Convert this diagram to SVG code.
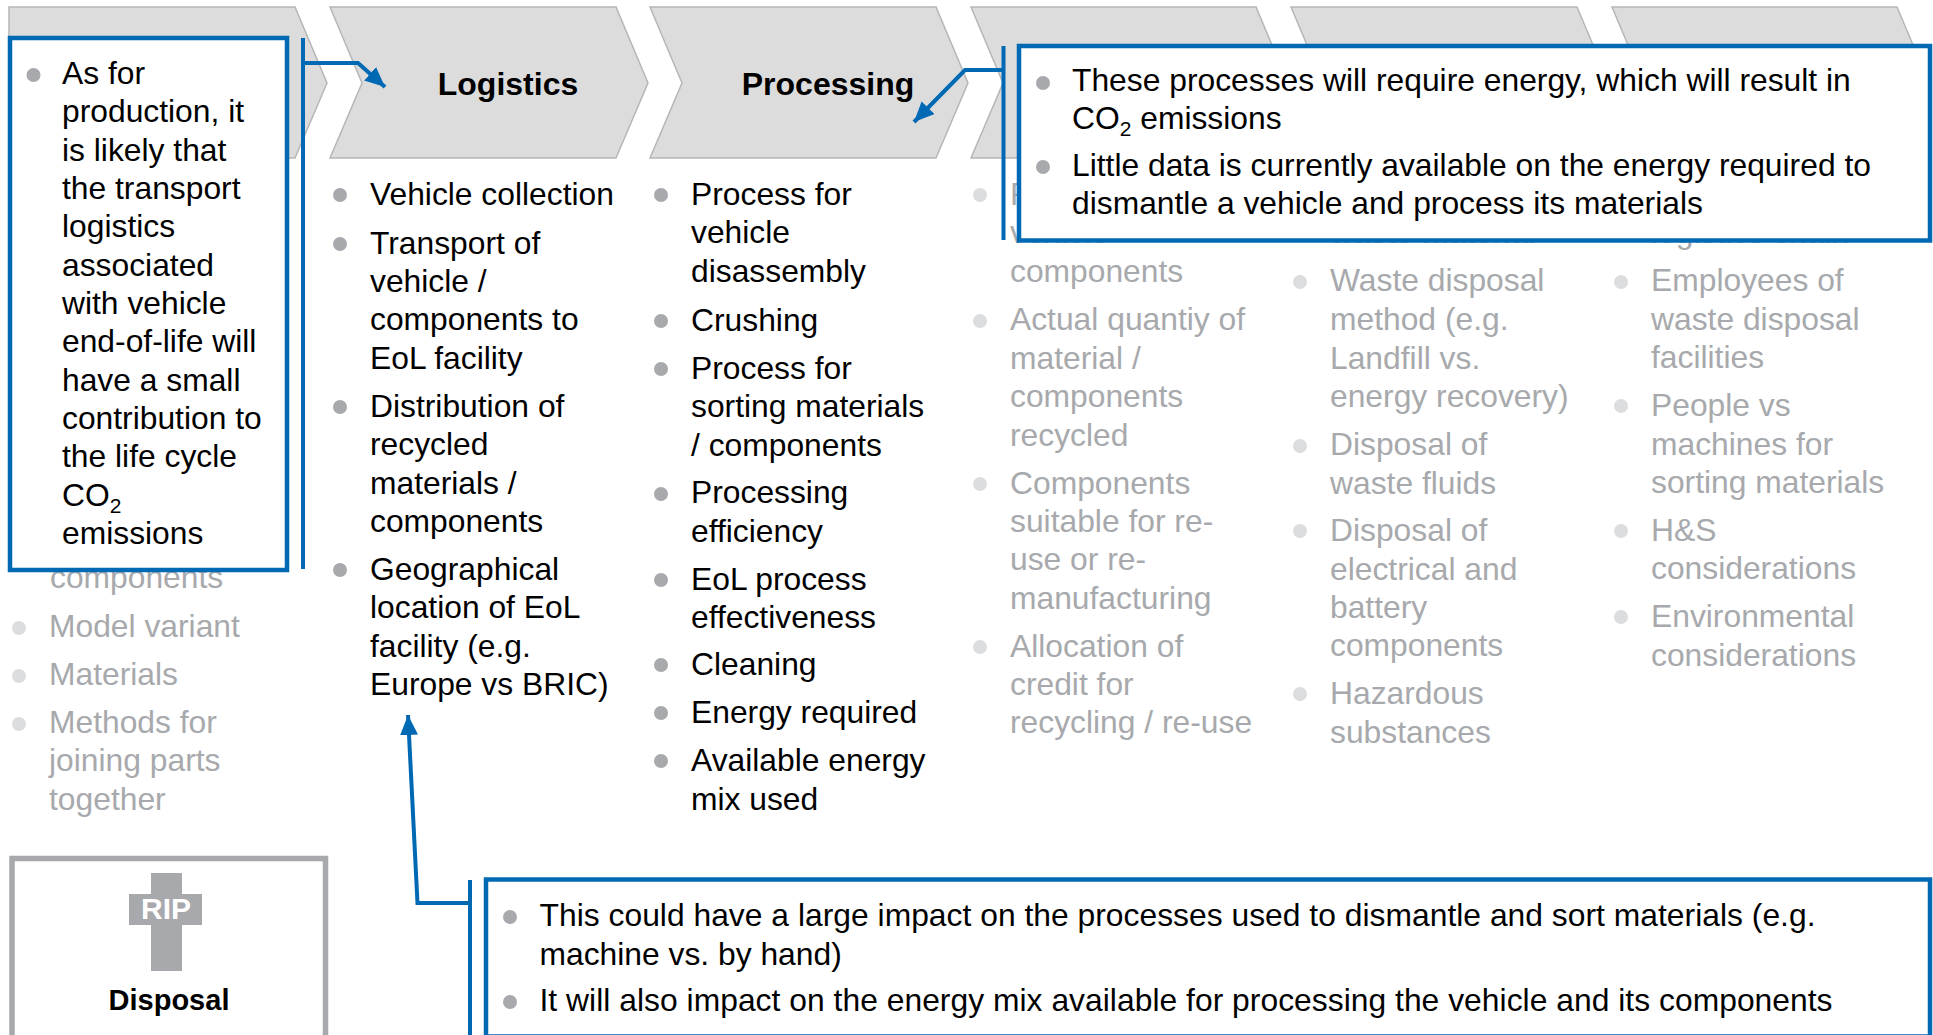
<svg xmlns="http://www.w3.org/2000/svg" width="1933" height="1035" viewBox="0 0 1933 1035">
<style>
text{font-family:"Liberation Sans",Arial,sans-serif;font-size:31.8px;fill:#000}
.g text{fill:#a7a9ac}
.h{font-weight:bold;text-anchor:middle;font-size:32px}
.chev{fill:#dcdcdd;stroke:#b5b6b8;stroke-width:1.5}
.box{fill:#fff;stroke:#0069b4;stroke-width:4.5}
.b{fill:#a7a9ac}.g circle{fill:#dcdddf}
.c{fill:none;stroke:#0069b4;stroke-width:4}
.s{font-size:21px}
</style>
<defs><marker id="a" markerUnits="userSpaceOnUse" markerWidth="24" markerHeight="20" refX="20" refY="9" orient="auto"><path d="M0 0L20 9L0 18Z" fill="#0069b4"/></marker></defs>
<g id="chevrons">
<path class="chev" d="M9 7H295L327 83L295 158H9Z"/>
<path class="chev" d="M330 7H616L648 83L616 158H330L362 83Z"/>
<path class="chev" d="M650 7H936L968 83L936 158H650L682 83Z"/>
<path class="chev" d="M971 7H1256L1288 83L1256 158H971L1003 83Z"/>
<path class="chev" d="M1291 7H1577L1609 83L1577 158H1291L1323 83Z"/>
<path class="chev" d="M1612 7H1897L1929 83L1897 158H1612L1644 83Z"/>
</g>
<g id="design" class="g">
<text x="50" y="588">components</text>
<circle cx="19" cy="628" r="7"/><text x="49" y="637">Model variant</text>
<circle cx="19" cy="676" r="7"/><text x="49" y="685">Materials</text>
<circle cx="19" cy="724" r="7"/><text x="49" y="733">Methods for</text>
<text x="49" y="771">joining parts</text><text x="49" y="810">together</text>
</g>
<g id="logistics">
<text class="h" x="508" y="95">Logistics</text>
<circle class="b" cx="340" cy="195" r="7"/><text x="370" y="205">Vehicle collection</text>
<circle class="b" cx="340" cy="244" r="7"/><text x="370" y="253.5">Transport of</text><text x="370" y="291.9">vehicle /</text><text x="370" y="330.3">components to</text><text x="370" y="368.7">EoL facility</text>
<circle class="b" cx="340" cy="407" r="7"/><text x="370" y="416.7">Distribution of</text><text x="370" y="455.1">recycled</text><text x="370" y="493.5">materials /</text><text x="370" y="531.9">components</text>
<circle class="b" cx="340" cy="570" r="7"/><text x="370" y="579.9">Geographical</text><text x="370" y="618.3">location of EoL</text><text x="370" y="656.7">facility (e.g.</text><text x="370" y="695.1">Europe vs BRIC)</text>
</g>
<g id="processing">
<text class="h" x="828" y="95">Processing</text>
<circle class="b" cx="661" cy="195" r="7"/><text x="691" y="205">Process for</text><text x="691" y="243.4">vehicle</text><text x="691" y="282">disassembly</text>
<circle class="b" cx="661" cy="321" r="7"/><text x="691" y="330.5">Crushing</text>
<circle class="b" cx="661" cy="369" r="7"/><text x="691" y="378.8">Process for</text><text x="691" y="417.2">sorting materials</text><text x="691" y="455.6">/ components</text>
<circle class="b" cx="661" cy="494" r="7"/><text x="691" y="503.3">Processing</text><text x="691" y="541.7">efficiency</text>
<circle class="b" cx="661" cy="580" r="7"/><text x="691" y="589.7">EoL process</text><text x="691" y="628">effectiveness</text>
<circle class="b" cx="661" cy="665" r="7"/><text x="691" y="675">Cleaning</text>
<circle class="b" cx="661" cy="713" r="7"/><text x="691" y="723">Energy required</text>
<circle class="b" cx="661" cy="761" r="7"/><text x="691" y="771">Available energy</text><text x="691" y="810">mix used</text>
</g>
<g id="col4" class="g">
<circle cx="980" cy="195" r="7"/><text x="1010" y="205">R</text><text x="1010" y="243.4">vehicle</text><text x="1010" y="282.3">components</text>
<circle cx="980" cy="321" r="7"/><text x="1010" y="330.3">Actual quantiy of</text><text x="1010" y="368.7">material /</text><text x="1010" y="407.1">components</text><text x="1010" y="445.5">recycled</text>
<circle cx="980" cy="484" r="7"/><text x="1010" y="493.5">Components</text><text x="1010" y="531.9">suitable for re-</text><text x="1010" y="570.3">use or re-</text><text x="1010" y="608.7">manufacturing</text>
<circle cx="980" cy="647" r="7"/><text x="1010" y="656.7">Allocation of</text><text x="1010" y="695.1">credit for</text><text x="1010" y="733">recycling / re-use</text>
</g>
<g id="col5" class="g">
<text x="1330" y="243.4">waste material</text>
<circle cx="1300" cy="282" r="7"/><text x="1330" y="291.4">Waste disposal</text><text x="1330" y="330">method (e.g.</text><text x="1330" y="369">Landfill vs.</text><text x="1330" y="407.4">energy recovery)</text>
<circle cx="1300" cy="446" r="7"/><text x="1330" y="455.1">Disposal of</text><text x="1330" y="493.5">waste fluids</text>
<circle cx="1300" cy="531" r="7"/><text x="1330" y="541">Disposal of</text><text x="1330" y="579.5">electrical and</text><text x="1330" y="618">battery</text><text x="1330" y="656">components</text>
<circle cx="1300" cy="694" r="7"/><text x="1330" y="704">Hazardous</text><text x="1330" y="742.6">substances</text>
</g>
<g id="col6" class="g">
<text x="1651" y="243.4">logistics chain</text>
<circle cx="1621" cy="282" r="7"/><text x="1651" y="291.4">Employees of</text><text x="1651" y="330">waste disposal</text><text x="1651" y="368.2">facilities</text>
<circle cx="1621" cy="406" r="7"/><text x="1651" y="416">People vs</text><text x="1651" y="454.6">machines for</text><text x="1651" y="493">sorting materials</text>
<circle cx="1621" cy="531" r="7"/><text x="1651" y="541">H&amp;S</text><text x="1651" y="579.4">considerations</text>
<circle cx="1621" cy="617" r="7"/><text x="1651" y="627.2">Environmental</text><text x="1651" y="665.6">considerations</text>
</g>
<g id="disposal">
<rect x="12" y="858.5" width="313.5" height="190" fill="#fff" stroke="#a7a9ac" stroke-width="5.5"/>
<path class="b" d="M151 873H182V894H202V925H182V971H151V925H129V894H151Z"/>
<text x="166" y="919" font-weight="bold" text-anchor="middle" style="fill:#fff;font-size:30px">RIP</text>
<text class="h" x="169" y="1010" style="font-size:29px">Disposal</text>
</g>
<g id="callout-logistics">
<rect class="box" x="10" y="38" width="277" height="532"/>
<circle class="b" cx="33.5" cy="75" r="7"/>
<text x="62" y="84">As for</text><text x="62" y="122.4">production, it</text><text x="62" y="160.8">is likely that</text><text x="62" y="198.6">the transport</text><text x="62" y="237.2">logistics</text><text x="62" y="275.6">associated</text><text x="62" y="314">with vehicle</text><text x="62" y="352.4">end-of-life will</text><text x="62" y="390.6">have a small</text><text x="62" y="429">contribution to</text><text x="62" y="467.4">the life cycle</text><text x="62" y="505.8">CO<tspan class="s" dy="7">2</tspan></text><text x="62" y="544">emissions</text>
</g>
<g id="callout-energy">
<rect class="box" x="1019" y="46" width="911" height="194.5"/>
<circle class="b" cx="1043" cy="83" r="7"/><circle class="b" cx="1043" cy="167" r="7"/>
<text x="1072" y="91">These processes will require energy, which will result in</text>
<text x="1072" y="129">CO<tspan class="s" dy="7">2</tspan><tspan dy="-7"> emissions</tspan></text>
<text x="1072" y="176">Little data is currently available on the energy required to</text>
<text x="1072" y="214.4">dismantle a vehicle and process its materials</text>
</g>
<g id="callout-location">
<rect class="box" x="486" y="879.5" width="1444" height="157"/>
<circle class="b" cx="510" cy="917" r="7"/><circle class="b" cx="510" cy="1002" r="7"/>
<text x="539.5" y="925.5" textLength="1276" lengthAdjust="spacing">This could have a large impact on the processes used to dismantle and sort materials (e.g.</text>
<text x="539.5" y="964.5">machine vs. by hand)</text>
<text x="539.5" y="1010.5" textLength="1293" lengthAdjust="spacing">It will also impact on the energy mix available for processing the vehicle and its components</text>
</g>
<g id="connectors">
<path class="c" d="M303 38V569"/>
<path class="c" marker-end="url(#a)" d="M303 63H358L385 87"/>
<path class="c" d="M1003.5 46V240"/>
<path class="c" marker-end="url(#a)" d="M1003.5 70H965L914 122"/>
<path class="c" d="M470 880V1035"/>
<path class="c" marker-end="url(#a)" d="M470 903H417.5L408 715"/>
</g>
</svg>
